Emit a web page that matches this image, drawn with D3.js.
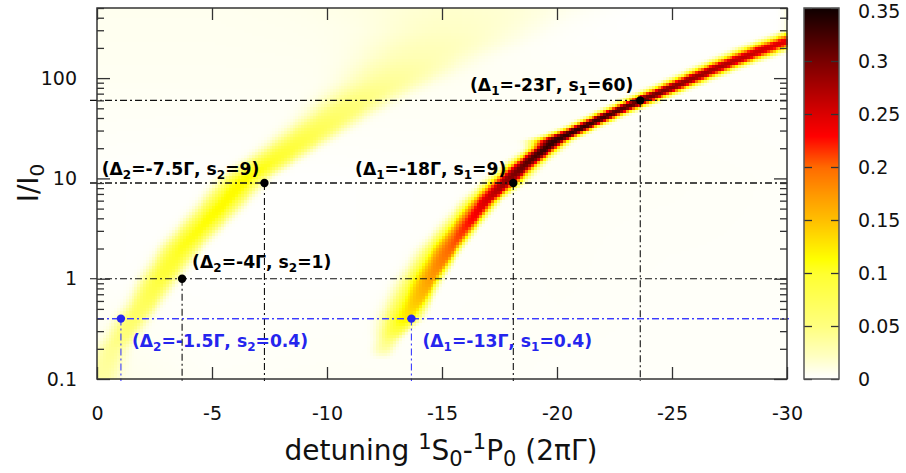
<!DOCTYPE html>
<html>
<head>
<meta charset="utf-8">
<script src="https://cdn.jsdelivr.net/npm/d3@7"></script>
<style>
  html, body { margin: 0; padding: 0; background: #fff; }
  svg { display: block; font-family: "DejaVu Sans", sans-serif; }
</style>
</head>
<body>
<svg id="chart" width="906" height="473"></svg>
<script>
// ---- axis ticks ----
const xTicks = [0, -5, -10, -15, -20, -25, -30];
const yTicks = [0.1, 1, 10, 100];
const cbTicks = [0, 0.05, 0.1, 0.15, 0.2, 0.25, 0.3, 0.35];
const cbTickLabels = ["0", "0.05", "0.1", "0.15", "0.2", "0.25", "0.3", "0.35"];

// ---- colour map (value -> colour) ----
const cmapStops  = [0, 0.005, 0.023, 0.05, 0.1, 0.114, 0.15, 0.175, 0.2, 0.23, 0.25, 0.3, 0.35];
const cmapColors = ["#ffffff", "#fffff5", "#ffffc0", "#ffff80", "#ffff30", "#ffff00", "#ffc000",
                    "#ff9800", "#ff6c00", "#ff0000", "#dc0000", "#7a0000", "#100000"];

// ---- strong resonance band: ridge samples vs. intensity ----
const band1I      = [0.16, 0.2, 0.25, 0.3, 0.4, 0.6, 1, 2, 3, 6, 10, 14, 20, 24, 32, 44, 60, 86, 127, 172, 218, 320];
const band1Center = [-12.4, -12.5, -12.7, -13.0, -13.45, -14.0, -14.55, -15.4, -15.95, -16.95, -17.95,
                     -18.65, -19.5, -19.95, -21.05, -22.3, -23.65, -25.25, -26.95, -28.4, -29.5, -31.5];
const band1Inner  = [0.35, 0.4, 0.45, 0.6, 0.8, 0.9, 0.9, 0.85, 0.75, 0.65, 0.6, 0.55, 0.5, 0.75,
                     0.5, 0.5, 0.55, 0.6, 0.65, 0.75, 0.8, 0.85];
const band1Outer  = [0.35, 0.35, 0.35, 0.35, 0.45, 0.35, 0.31, 0.3, 0.32, 0.36, 0.5, 0.45, 0.45, 0.45,
                     0.45, 0.5, 0.55, 0.6, 0.65, 0.75, 0.8, 0.85];
const band1Peak   = [0, 0.03, 0.05, 0.085, 0.12, 0.145, 0.17, 0.2, 0.215, 0.25, 0.29, 0.31, 0.33, 0.33,
                     0.33, 0.32, 0.31, 0.29, 0.275, 0.26, 0.25, 0.23];

// ---- weak resonance band ----
const band2I      = [0.1, 0.2, 0.26, 0.4, 0.57, 1, 2.1, 5, 10, 20, 29, 42, 62, 95, 160, 300, 500];
const band2Center = [-0.2, -0.7, -1.1, -1.6, -2.1, -2.75, -3.75, -5.3, -6.45, -8.4, -9.4, -10.4,
                     -11.4, -12.7, -14, -15.5, -16.5];
const band2Inner  = [0.7, 0.6, 0.6, 0.6, 0.6, 0.65, 0.7, 0.75, 0.8, 0.9, 1.0, 1.1, 1.3, 1.6, 2.2, 3.0, 4.0];
const band2Outer  = [0.6, 0.5, 0.5, 0.5, 0.5, 0.55, 0.6, 0.65, 0.7, 0.8, 0.9, 1.0, 1.2, 1.5, 2.0, 3.0, 4.0];
const band2Peak   = [0.025, 0.035, 0.045, 0.06, 0.07, 0.09, 0.105, 0.115, 0.115, 0.09, 0.075, 0.06,
                     0.045, 0.033, 0.022, 0.016, 0.014];

// ---- faint background level on a coarse grid ----
const bgDetuning  = [0, -5, -10, -15, -20, -25, -30];
const bgIntensity = [0.1, 1, 10, 100, 500];
const bgLevel = [
  [0.010, 0.004, 0.005, 0.004, 0.003, 0.003, 0.003],
  [0.002, 0.001, 0.001, 0.002, 0.004, 0.003, 0.003],
  [0.002, 0.001, 0.001, 0.002, 0.004, 0.004, 0.003],
  [0.006, 0.006, 0.006, 0.006, 0.004, 0.002, 0.002],
  [0.007, 0.007, 0.008, 0.005, 0.001, 0.000, 0.000]
];

// ---- marked operating points ----
const pointDetuning  = [-1.04, -3.7, -7.28, -13.67, -18.1, -23.62];
const pointIntensity = [0.4, 1, 9, 0.4, 9, 60];
const pointBeam      = ["2", "2", "2", "1", "1", "1"];
const pointDelta     = ["-1.5", "-4", "-7.5", "-13", "-18", "-23"];
const pointSat       = ["0.4", "1", "9", "0.4", "9", "60"];

// ---- layout ----
const L = 97, R = 787, T = 8, B = 379;
const CB_L = 804, CB_R = 839;
const BLUE = "#2525ee";
const labelLayout = [
  { dx: 11, dy: 28, anchor: "start", color: BLUE },
  { dx: 10, dy: -11, anchor: "start", color: "#000" },
  { dx: -5, dy: -8, anchor: "end", color: "#000" },
  { dx: 11, dy: 28, anchor: "start", color: BLUE },
  { dx: -7, dy: -8, anchor: "end", color: "#000" },
  { dx: -7, dy: -9, anchor: "end", color: "#000" }
];
const pointColor = [BLUE, "#000", "#000", BLUE, "#000", "#000"];

const svg = d3.select("#chart");
const x = d3.scaleLinear().domain([0, -30]).range([L, R]);
const y = d3.scaleLog().domain([0.1, 500]).range([B, T]);
const cmap = d3.scaleLinear().domain(cmapStops).range(cmapColors).clamp(true);

// band parameter lookups along log-intensity
function bandModel(I, c, wi, wo, p) {
  const li = I.map(Math.log10);
  const s = r => d3.scaleLinear().domain(li).range(r).clamp(true);
  return { c: s(c), wi: s(wi), wo: s(wo), p: s(p) };
}
const b1 = bandModel(band1I, band1Center, band1Inner, band1Outer, band1Peak);
const b2 = bandModel(band2I, band2Center, band2Inner, band2Outer, band2Peak);
function bandValue(b, det, lI) {
  const c = b.c(lI);
  const d = det - c;              // negative => further from zero detuning
  const w = d > 0 ? b.wi(lI) : b.wo(lI);
  return b.p(lI) * Math.exp(-Math.LN2 * Math.pow(Math.abs(d) / w, 2.5));
}
// background: bilinear lookup on coarse grid
const bgLogI = bgIntensity.map(Math.log10);
const bgRow = d3.scaleLinear().domain(bgLogI).range(d3.range(bgLogI.length));
function bgValue(det, lI) {
  const fx = Math.max(0, Math.min(bgDetuning.length - 1.0001, -det / 5));
  const fy = Math.max(0, Math.min(bgLogI.length - 1.0001, bgRow(lI)));
  const i = Math.floor(fx), j = Math.floor(fy), u = fx - i, v = fy - j;
  const a = bgLevel[j][i], bb = bgLevel[j][i + 1], c = bgLevel[j + 1][i], d = bgLevel[j + 1][i + 1];
  return (a * (1 - u) + bb * u) * (1 - v) + (c * (1 - u) + d * u) * v;
}

// ---- heat map cells ----
const dx = 0.125, nx = Math.round(30 / dx);
const lMin = -1, lMax = Math.log10(500), ny = 124, dl = (lMax - lMin) / ny;
const cells = [];
for (let j = 0; j < ny; j++) {
  const l0 = lMin + j * dl, l1 = l0 + dl, lc = l0 + dl / 2;
  for (let i = 0; i < nx; i++) {
    const d0 = -i * dx, d1 = d0 - dx, dc = d0 - dx / 2;
    const v = bandValue(b1, dc, lc) + bandValue(b2, dc, lc) + bgValue(dc, lc);
    cells.push({ d0, d1, i0: Math.pow(10, l0), i1: Math.pow(10, l1), v });
  }
}
svg.append("g").attr("shape-rendering", "crispEdges")
  .selectAll("rect").data(cells).join("rect")
  .attr("x", d => x(d.d0))
  .attr("y", d => y(d.i1))
  .attr("width", d => x(d.d1) - x(d.d0) + 0.6)
  .attr("height", d => y(d.i0) - y(d.i1) + 0.6)
  .attr("fill", d => cmap(d.v));

// ---- guide lines through the operating points ----
const dash = "7,3,2,3";
const guides = svg.append("g").attr("fill", "none");
pointDetuning.forEach((d, k) => {
  const col = pointColor[k] === BLUE ? "#3b3bff" : "#111";
  const x0 = pointColor[k] === BLUE ? L : L - 7;
  const x1 = pointColor[k] === BLUE ? R + 2 : R;
  guides.append("line")
    .attr("x1", x0).attr("x2", x1)
    .attr("y1", y(pointIntensity[k])).attr("y2", y(pointIntensity[k]))
    .attr("stroke", col).attr("stroke-width", 1.1).attr("stroke-dasharray", dash);
  guides.append("line")
    .attr("x1", x(d)).attr("x2", x(d))
    .attr("y1", y(pointIntensity[k])).attr("y2", B + 2)
    .attr("stroke", col).attr("stroke-width", 1.1).attr("stroke-dasharray", dash);
});

// ---- axes (ticks pointing inwards on all four sides) ----
const minorY = [];
[0.1, 1, 10, 100].forEach(dec => { for (let m = 2; m <= 9; m++) { const v = dec * m; if (v <= 500) minorY.push(v); } });
const axisColor = "#333";
function styleAxis(g) {
  g.select(".domain").remove();
  g.selectAll(".tick line").attr("stroke", axisColor).attr("stroke-width", 1.3);
  g.selectAll(".tick text").attr("fill", "#111").attr("font-size", 19)
    .attr("font-family", "DejaVu Sans, sans-serif");
}
svg.append("g").attr("transform", `translate(0,${B})`)
  .call(d3.axisBottom(x).tickValues(xTicks).tickSize(-12).tickPadding(28).tickFormat(d => String(d)))
  .call(styleAxis);
svg.append("g").attr("transform", `translate(0,${T})`)
  .call(d3.axisTop(x).tickValues(xTicks).tickSize(-12).tickFormat(""))
  .call(styleAxis);
svg.append("g").attr("transform", `translate(${L},0)`)
  .call(d3.axisLeft(y).tickValues(yTicks).tickSize(-13).tickPadding(20).tickFormat(d => String(d)))
  .call(styleAxis);
svg.append("g").attr("transform", `translate(${L},0)`)
  .call(d3.axisLeft(y).tickValues(minorY).tickSize(-7).tickFormat(""))
  .call(styleAxis);
svg.append("g").attr("transform", `translate(${R},0)`)
  .call(d3.axisRight(y).tickValues(yTicks).tickSize(-13).tickFormat(""))
  .call(styleAxis);
svg.append("g").attr("transform", `translate(${R},0)`)
  .call(d3.axisRight(y).tickValues(minorY).tickSize(-7).tickFormat(""))
  .call(styleAxis);
svg.append("rect").attr("x", L).attr("y", T).attr("width", R - L).attr("height", B - T)
  .attr("fill", "none").attr("stroke", axisColor).attr("stroke-width", 1.5);

// ---- operating points and their labels ----
svg.append("g").selectAll("circle").data(pointDetuning).join("circle")
  .attr("cx", d => x(d)).attr("cy", (d, k) => y(pointIntensity[k]))
  .attr("r", 4.2).attr("fill", (d, k) => pointColor[k]);

const labels = svg.append("g").attr("font-family", "DejaVu Sans, sans-serif")
  .attr("font-weight", "bold").attr("font-size", 17.2);
pointDetuning.forEach((d, k) => {
  const lay = labelLayout[k];
  const t = labels.append("text")
    .attr("x", x(d) + lay.dx).attr("y", y(pointIntensity[k]) + lay.dy)
    .attr("text-anchor", lay.anchor).attr("fill", lay.color);
  t.append("tspan").text("(\u0394");
  t.append("tspan").attr("font-size", 12).attr("dy", 4).text(pointBeam[k]);
  t.append("tspan").attr("dy", -4).text(`=${pointDelta[k]}\u0393, s`);
  t.append("tspan").attr("font-size", 12).attr("dy", 4).text(pointBeam[k]);
  t.append("tspan").attr("dy", -4).text(`=${pointSat[k]})`);
});

// ---- axis titles ----
const xt = svg.append("text").attr("x", 441).attr("y", 460).attr("text-anchor", "middle")
  .attr("font-size", 28).attr("fill", "#111");
xt.append("tspan").text("detuning ");
xt.append("tspan").attr("font-size", 21).attr("dy", -11).text("1");
xt.append("tspan").attr("dy", 11).text("S");
xt.append("tspan").attr("font-size", 21).attr("dy", 6).text("0");
xt.append("tspan").attr("dy", -6).text("-");
xt.append("tspan").attr("font-size", 21).attr("dy", -11).text("1");
xt.append("tspan").attr("dy", 11).text("P");
xt.append("tspan").attr("font-size", 21).attr("dy", 6).text("0");
xt.append("tspan").attr("dy", -6).text(" (2\u03c0\u0393)");

const yt = svg.append("text").attr("transform", "translate(38,183) rotate(-90)")
  .attr("text-anchor", "middle").attr("font-size", 28).attr("fill", "#111");
yt.append("tspan").text("I/I");
yt.append("tspan").attr("font-size", 20).attr("dy", 6).text("0");

// ---- colour bar ----
const cb = d3.scaleLinear().domain([0, 0.35]).range([B, T]);
const cbN = 371, cbStep = 0.35 / cbN;
const cbSteps = d3.range(cbN).map(i => i * cbStep);
svg.append("g").attr("shape-rendering", "crispEdges")
  .selectAll("rect").data(cbSteps).join("rect")
  .attr("x", CB_L).attr("width", CB_R - CB_L)
  .attr("y", d => cb(d + cbStep)).attr("height", d => cb(d) - cb(d + cbStep) + 0.6)
  .attr("fill", d => cmap(d + cbStep / 2));
svg.append("g").attr("transform", `translate(${CB_L},0)`)
  .call(d3.axisLeft(cb).tickValues(cbTicks).tickSize(-8).tickFormat(""))
  .call(styleAxis);
svg.append("g").attr("transform", `translate(${CB_R},0)`)
  .call(d3.axisRight(cb).tickValues(cbTicks).tickSize(-8).tickPadding(19)
    .tickFormat((d, i) => cbTickLabels[i]))
  .call(styleAxis)
  .call(g => g.selectAll(".tick text").attr("dy", (d, i) => i === cbTicks.length - 1 ? "0.52em" : "0.36em"));
svg.append("rect").attr("x", CB_L).attr("y", T).attr("width", CB_R - CB_L).attr("height", B - T)
  .attr("fill", "none").attr("stroke", "#555").attr("stroke-width", 1.5);
</script>
</body>
</html>
